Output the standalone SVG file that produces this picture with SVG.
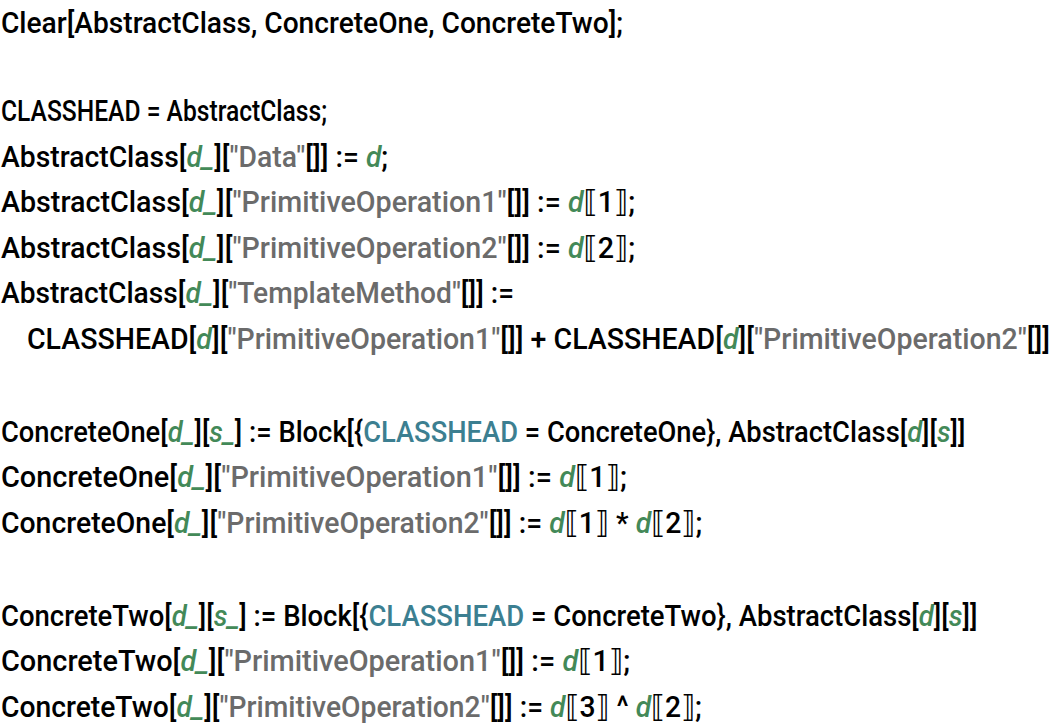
<svg xmlns="http://www.w3.org/2000/svg" width="1054" height="728" viewBox="0 0 1054 728">
<style>
text{font-family:Roboto,"Liberation Sans","DejaVu Sans",sans-serif;font-size:30px;font-weight:500;fill:#000;white-space:pre}
.p{fill:#438958;font-style:italic}
.s{fill:#6b6b6b}
.l{fill:#3c7f91}
</style>
<rect width="1054" height="728" fill="#fff"/>
<g id="code">
<text transform="translate(1,33) scale(0.938,1)">Clear[AbstractClass, ConcreteOne, ConcreteTwo];</text>
<text transform="translate(1,121) scale(0.821,1)">CLASSHEAD = AbstractClass;</text>
<text transform="translate(1,167) scale(0.944,1)">AbstractClass[<tspan class="p">d_</tspan>][<tspan class="s">"Data"</tspan>[]] := <tspan class="p">d</tspan>;</text>
<text transform="translate(1,212) scale(0.956,1)">AbstractClass[<tspan class="p">d_</tspan>][<tspan class="s">"PrimitiveOperation1"</tspan>[]] := <tspan class="p">d</tspan>⟦1⟧;</text>
<text transform="translate(1,258) scale(0.956,1)">AbstractClass[<tspan class="p">d_</tspan>][<tspan class="s">"PrimitiveOperation2"</tspan>[]] := <tspan class="p">d</tspan>⟦2⟧;</text>
<text transform="translate(1,303) scale(0.939,1)">AbstractClass[<tspan class="p">d_</tspan>][<tspan class="s">"TemplateMethod"</tspan>[]] :=</text>
<text transform="translate(27,349) scale(0.951,1)">CLASSHEAD[<tspan class="p">d</tspan>][<tspan class="s">"PrimitiveOperation1"</tspan>[]] + CLASSHEAD[<tspan class="p">d</tspan>][<tspan class="s">"PrimitiveOperation2"</tspan>[]]</text>
<text transform="translate(1,442) scale(0.911,1)">ConcreteOne[<tspan class="p">d_</tspan>][<tspan class="p">s_</tspan>] := Block[{<tspan class="l">CLASSHEAD</tspan> = ConcreteOne}, AbstractClass[<tspan class="p">d</tspan>][<tspan class="p">s</tspan>]]</text>
<text transform="translate(1,487) scale(0.963,1)">ConcreteOne[<tspan class="p">d_</tspan>][<tspan class="s">"PrimitiveOperation1"</tspan>[]] := <tspan class="p">d</tspan>⟦1⟧;</text>
<text transform="translate(1,533) scale(0.946,1)">ConcreteOne[<tspan class="p">d_</tspan>][<tspan class="s">"PrimitiveOperation2"</tspan>[]] := <tspan class="p">d</tspan>⟦1⟧ * <tspan class="p">d</tspan>⟦2⟧;</text>
<text transform="translate(1,626) scale(0.9166,1)">ConcreteTwo[<tspan class="p">d_</tspan>][<tspan class="p">s_</tspan>] := Block[{<tspan class="l">CLASSHEAD</tspan> = ConcreteTwo}, AbstractClass[<tspan class="p">d</tspan>][<tspan class="p">s</tspan>]]</text>
<text transform="translate(1,671) scale(0.963,1)">ConcreteTwo[<tspan class="p">d_</tspan>][<tspan class="s">"PrimitiveOperation1"</tspan>[]] := <tspan class="p">d</tspan>⟦1⟧;</text>
<text transform="translate(1,717) scale(0.942,1)">ConcreteTwo[<tspan class="p">d_</tspan>][<tspan class="s">"PrimitiveOperation2"</tspan>[]] := <tspan class="p">d</tspan>⟦3⟧ ^ <tspan class="p">d</tspan>⟦2⟧;</text>
</g>
</svg>
